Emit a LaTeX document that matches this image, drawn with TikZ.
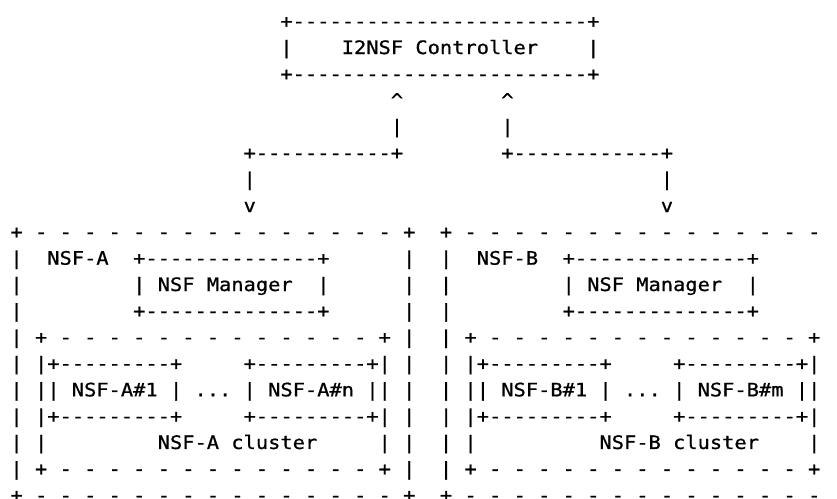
\documentclass[tikz,border=0pt]{standalone}
\usepackage{fontspec}
\newfontfamily\asciifont[FakeStretch=1.1,FakeBold=0.8,Ligatures=TeXOff]{DejaVu Sans Mono}

% width of one character cell
\newlength\cw
\setlength\cw{12.27pt}

% Each row of the text drawing is stored with its spaces intact:
% spaces are active here, and # and ^ are plain characters.
\begingroup
\obeyspaces\catcode`\#=12 \catcode`\^=12 %
\gdef\asciispaces{\def {\hspace*{\cw}}}%
\gdef\rowa{                      +------------------------+}%
\gdef\rowb{                      |    I2NSF Controller    |}%
\gdef\rowd{                               ^        ^}%
\gdef\rowe{                               |        |}%
\gdef\rowf{                   +-----------+        +------------+}%
\gdef\rowg{                   |                                 |}%
\gdef\rowh{                   v                                 v}%
\gdef\rowi{+ - - - - - - - - - - - - - - - +  + - - - - - - - - - - - - - - - }%
\gdef\rowj{|  NSF-A  +--------------+      |  |  NSF-B  +--------------+      }%
\gdef\rowk{|         | NSF Manager  |      |  |         | NSF Manager  |      }%
\gdef\rowl{|         +--------------+      |  |         +--------------+      }%
\gdef\rowm{| + - - - - - - - - - - - - - + |  | + - - - - - - - - - - - - - + }%
\gdef\rown{| |+---------+     +---------+| |  | |+---------+     +---------+| }%
\gdef\rowo{| || NSF-A#1 | ... | NSF-A#n || |  | || NSF-B#1 | ... | NSF-B#m || }%
\gdef\rowq{| |         NSF-A cluster     | |  | |          NSF-B cluster    | }%
\endgroup

\tikzset{
  asciirow/.style={anchor=base west, inner sep=0pt, outer sep=0pt,
    font={\asciifont\fontsize{18.53pt}{26pt}\selectfont}, text=black},
}

\begin{document}
\begin{tikzpicture}[x=1pt,y=1pt]
  \useasboundingbox (0,0) rectangle (837,-498);
  \fill[white] (0,0) rectangle (837,-498);
  % baselines: first at 27.7pt, then every 26.33pt
  \def\bl#1{-27.7-26.33*#1}
  \node[asciirow] (r0)  at (10.5,{\bl{0}})  {\asciispaces\rowa};
  \node[asciirow] (r1)  at (10.5,{\bl{1}})  {\asciispaces\rowb};
  \node[asciirow] (r2)  at (10.5,{\bl{2}})  {\asciispaces\rowa};
  \node[asciirow] (r3)  at (10.5,{\bl{3}})  {\asciispaces\rowd};
  \node[asciirow] (r4)  at (10.5,{\bl{4}})  {\asciispaces\rowe};
  \node[asciirow] (r5)  at (10.5,{\bl{5}})  {\asciispaces\rowf};
  \node[asciirow] (r6)  at (10.5,{\bl{6}})  {\asciispaces\rowg};
  \node[asciirow] (r7)  at (10.5,{\bl{7}})  {\asciispaces\rowh};
  \node[asciirow] (r8)  at (10.5,{\bl{8}})  {\asciispaces\rowi};
  \node[asciirow] (r9)  at (10.5,{\bl{9}})  {\asciispaces\rowj};
  \node[asciirow] (r10) at (10.5,{\bl{10}}) {\asciispaces\rowk};
  \node[asciirow] (r11) at (10.5,{\bl{11}}) {\asciispaces\rowl};
  \node[asciirow] (r12) at (10.5,{\bl{12}}) {\asciispaces\rowm};
  \node[asciirow] (r13) at (10.5,{\bl{13}}) {\asciispaces\rown};
  \node[asciirow] (r14) at (10.5,{\bl{14}}) {\asciispaces\rowo};
  \node[asciirow] (r15) at (10.5,{\bl{15}}) {\asciispaces\rown};
  \node[asciirow] (r16) at (10.5,{\bl{16}}) {\asciispaces\rowq};
  \node[asciirow] (r17) at (10.5,{\bl{17}}) {\asciispaces\rowm};
  \node[asciirow] (r18) at (10.5,{\bl{18}}) {\asciispaces\rowi};
\end{tikzpicture}
\end{document}
